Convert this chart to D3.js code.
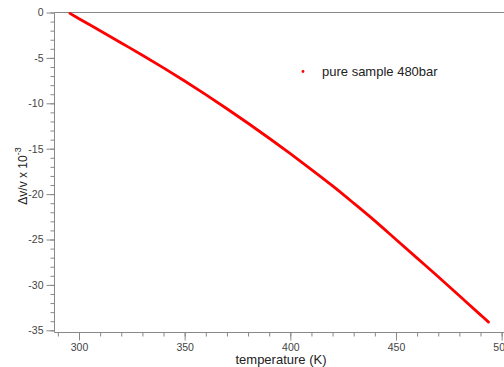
<html>
<head>
<meta charset="utf-8">
<script src="https://d3js.org/d3.v7.min.js"></script>
<style>
  body { margin: 0; background: #fff; font-family: "Liberation Sans", Arial, sans-serif; }
  .tick text { fill: #444; font-size: 10.5px; }
  .tick line, .domain { stroke: #888; }
</style>
</head>
<body>
<div id="chart"></div>
<script>
// values
var temperature = [295.7, 300, 310, 320, 330, 340, 350, 360, 370, 380, 390, 400, 410, 420, 430, 440, 450, 460, 470, 480, 490, 493.8];
var dvv = [-0.1, -0.68, -2.0, -3.35, -4.7, -6.1, -7.55, -9.05, -10.6, -12.2, -13.85, -15.55, -17.3, -19.1, -21.0, -22.95, -25.0, -27.05, -29.1, -31.2, -33.3, -34.1];
var xTicks = [300, 350, 400, 450, 500];
var yTicks = [0, -5, -10, -15, -20, -25, -30, -35];
var seriesName = "pure sample 480bar";

var width = 504, height = 367;
var svg = d3.select("#chart").append("svg")
    .attr("width", width)
    .attr("height", height);

var x = d3.scaleLinear().domain([288.4, 501.5]).range([54.5, 504.8]);
var y = d3.scaleLinear().domain([0, -35]).range([12.5, 330.3]);
var plain = function(d) { return String(d); };

// top frame line
svg.append("line")
    .attr("x1", 54.5).attr("x2", width)
    .attr("y1", 12.5).attr("y2", 12.5)
    .attr("stroke", "#888");

// minor ticks
var xAxisMinor = d3.axisBottom(x).tickValues(d3.range(290, 510, 10)).tickSize(4).tickFormat("");
var yAxisMinor = d3.axisLeft(y).tickValues(d3.range(0, -36, -1)).tickSize(4).tickFormat("");

svg.append("g")
    .attr("transform", "translate(0,332.5)")
    .call(xAxisMinor)
    .call(function(g) { g.select(".domain").remove(); });
svg.append("g")
    .attr("transform", "translate(54.5,0)")
    .call(yAxisMinor)
    .call(function(g) { g.select(".domain").remove(); });

// major axes
svg.append("g")
    .attr("transform", "translate(0,332.5)")
    .call(d3.axisBottom(x).tickValues(xTicks).tickSize(8).tickSizeOuter(0).tickPadding(3).tickFormat(plain))
    .call(function(g) { g.select(".domain").attr("d", "M54.5,0H" + width); });

svg.append("g")
    .attr("transform", "translate(54.5,0)")
    .call(d3.axisLeft(y).tickValues(yTicks).tickSize(8).tickSizeOuter(0).tickPadding(3).tickFormat(plain))
    .call(function(g) { g.select(".domain").attr("d", "M0,12.5V332.5"); });

// data
var pts = temperature.map(function(t, i) { return [t, dvv[i]]; });
var line = d3.line()
    .x(function(d) { return x(d[0]); })
    .y(function(d) { return y(d[1]); })
    .curve(d3.curveCatmullRom);

svg.append("path")
    .datum(pts)
    .attr("d", line)
    .attr("fill", "none")
    .attr("stroke", "#ff0000")
    .attr("stroke-width", 2.8)
    .attr("stroke-linecap", "round");

// axis labels
svg.append("text")
    .attr("x", 281).attr("y", 363.5)
    .attr("text-anchor", "middle")
    .attr("font-size", 13)
    .attr("fill", "#222")
    .text("temperature (K)");

var ylab = svg.append("text")
    .attr("transform", "translate(27,176) rotate(-90)")
    .attr("text-anchor", "middle")
    .attr("font-size", 12)
    .attr("fill", "#222");
ylab.append("tspan").text("\u0394v/v x 10");
ylab.append("tspan").attr("dy", -6).attr("font-size", 9).text("-3");

// legend
svg.append("circle")
    .attr("cx", 303).attr("cy", 71.5).attr("r", 1.4)
    .attr("fill", "#ff0000");
svg.append("text")
    .attr("x", 322).attr("y", 76)
    .attr("font-size", 13)
    .attr("fill", "#222")
    .text(seriesName);
</script>
</body>
</html>
